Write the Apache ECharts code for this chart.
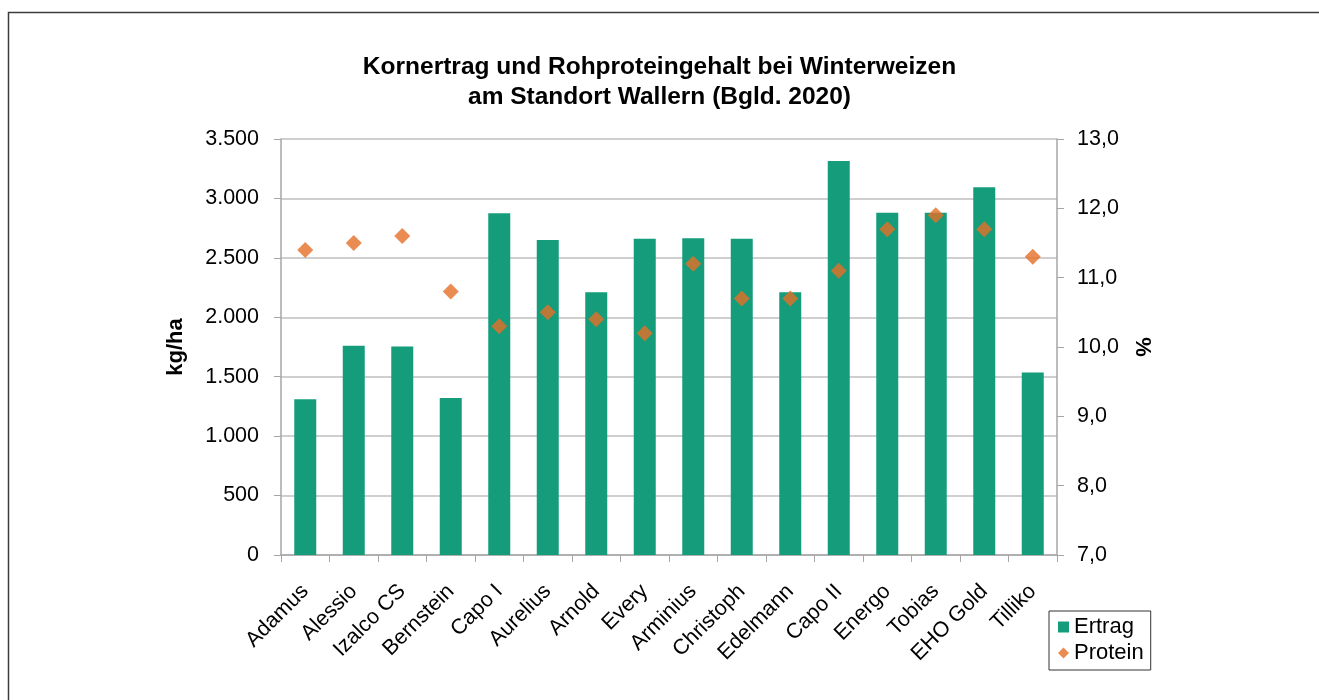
<!DOCTYPE html>
<html>
<head>
<meta charset="utf-8">
<script src="https://cdn.jsdelivr.net/npm/echarts@6/dist/echarts.min.js"></script>
<style>
  html, body { margin: 0; padding: 0; background: #fff; }
  #chart { width: 1319px; height: 700px; }
</style>
</head>
<body>
<div id="chart"></div>
<script>
var sorten = ['Adamus', 'Alessio', 'Izalco CS', 'Bernstein', 'Capo I', 'Aurelius', 'Arnold', 'Every',
  'Arminius', 'Christoph', 'Edelmann', 'Capo II', 'Energo', 'Tobias', 'EHO Gold', 'Tilliko'];
var ertrag = [1310, 1760, 1755, 1320, 2875, 2650, 2210, 2660, 2665, 2660, 2210, 3315, 2880, 2880, 3095, 1535];
var protein = [11.4, 11.5, 11.6, 10.8, 10.3, 10.5, 10.4, 10.2, 11.2, 10.7, 10.7, 11.1, 11.7, 11.9, 11.7, 11.3];

var font = "'Liberation Sans', Arial, sans-serif";

function tausender(v) {
  if (v < 1000) return String(v);
  var rest = String(v % 1000);
  while (rest.length < 3) rest = '0' + rest;
  return Math.floor(v / 1000) + '.' + rest;
}

var chart = echarts.init(document.getElementById('chart'));

var option = {
  animation: false,
  backgroundColor: '#fff',
  textStyle: { fontFamily: font },
  title: {
    text: 'Kornertrag und Rohproteingehalt bei Winterweizen\nam Standort Wallern (Bgld. 2020)',
    left: 'center',
    top: 47,
    textStyle: {
      fontFamily: font,
      fontSize: 24.5,
      fontWeight: 'bold',
      color: '#000',
      lineHeight: 30
    }
  },
  legend: {
    orient: 'vertical',
    left: 1049,
    top: 611,
    padding: [5, 7, 6, 9],
    itemGap: 4,
    itemWidth: 11,
    itemHeight: 11,
    borderColor: '#333',
    borderWidth: 1,
    textStyle: { fontFamily: font, fontSize: 22, color: '#000' },
    data: [
      { name: 'Ertrag', icon: 'rect' },
      { name: 'Protein', icon: 'diamond' }
    ]
  },
  grid: {
    left: 281,
    right: 262,
    top: 139,
    bottom: 145
  },
  xAxis: {
    type: 'category',
    data: sorten,
    axisLine: { lineStyle: { color: '#a6a6a6', width: 1.5 } },
    axisTick: { show: true, length: 7, lineStyle: { color: '#a6a6a6' } },
    axisLabel: {
      rotate: 45,
      interval: 0,
      margin: 33,
      fontFamily: font,
      fontSize: 21.5,
      color: '#000'
    }
  },
  yAxis: [
    {
      type: 'value',
      min: 0,
      max: 3500,
      interval: 500,
      name: 'kg/ha',
      nameLocation: 'middle',
      nameGap: 94,
      nameRotate: 90,
      nameTextStyle: { fontFamily: font, fontSize: 22, fontWeight: 'bold', color: '#000' },
      axisLine: { show: true, lineStyle: { color: '#a6a6a6', width: 1.5 } },
      axisTick: { show: true, length: 7, lineStyle: { color: '#a6a6a6' } },
      splitLine: { lineStyle: { color: '#bfbfbf', width: 1.5 } },
      axisLabel: {
        margin: 22,
        fontFamily: font,
        fontSize: 21.5,
        color: '#000',
        formatter: tausender
      }
    },
    {
      type: 'value',
      min: 7,
      max: 13,
      interval: 1,
      position: 'right',
      name: '%',
      nameLocation: 'middle',
      nameGap: 74,
      nameRotate: -90,
      nameTextStyle: { fontFamily: font, fontSize: 22, fontWeight: 'bold', color: '#000' },
      axisLine: { show: true, lineStyle: { color: '#a6a6a6', width: 1.5 } },
      axisTick: { show: true, length: 7, lineStyle: { color: '#a6a6a6' } },
      splitLine: { show: false },
      axisLabel: {
        margin: 20,
        fontFamily: font,
        fontSize: 21.5,
        color: '#000',
        formatter: function (v) { return v.toFixed(1).replace('.', ','); }
      }
    }
  ],
  series: [
    {
      name: 'Ertrag',
      type: 'bar',
      data: ertrag,
      barWidth: 22,
      itemStyle: { color: '#149c7b' }
    },
    {
      name: 'Protein',
      type: 'scatter',
      yAxisIndex: 1,
      data: protein,
      symbol: 'diamond',
      symbolSize: 16,
      itemStyle: { color: '#e56f27' }
    }
  ],
  graphic: [
    {
      type: 'rect',
      shape: { x: 8.5, y: 12.5, width: 1320, height: 700 },
      style: { fill: 'none', stroke: '#3c3c3c', lineWidth: 1.5 },
      silent: true
    }
  ]
};

chart.setOption(option);
</script>
</body>
</html>
